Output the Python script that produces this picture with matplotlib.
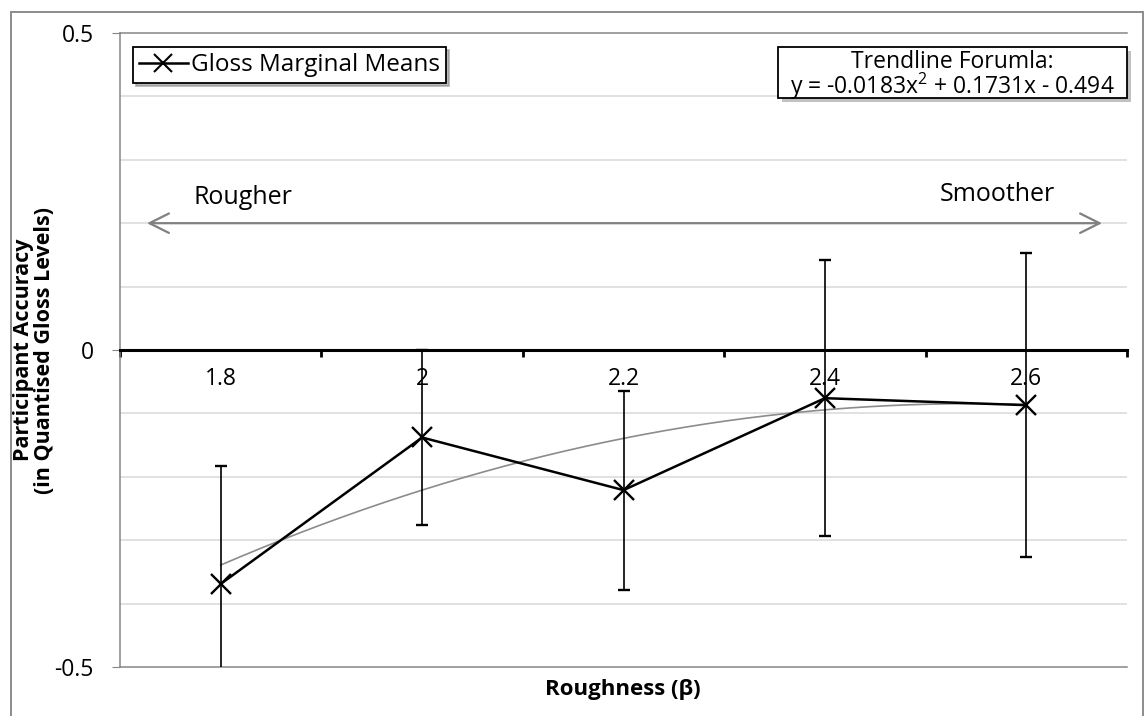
import matplotlib
matplotlib.use("Agg")
import matplotlib.pyplot as plt
from matplotlib.patches import Rectangle
from matplotlib.lines import Line2D
from matplotlib.ticker import MultipleLocator, FixedLocator
import numpy as np

plt.rcParams['font.family'] = ['Open Sans', 'DejaVu Sans']
plt.rcParams['axes.unicode_minus'] = False
plt.rcParams['mathtext.fontset'] = 'custom'
plt.rcParams['mathtext.rm'] = 'Open Sans'

# roughness levels and the marginal means of participant accuracy
roughness = ['1.8', '2', '2.2', '2.4', '2.6']
gloss_means = [-0.369, -0.138, -0.221, -0.076, -0.087]
gloss_err = [0.186, 0.138, 0.157, 0.218, 0.240]

# quadratic trendline coefficients (x = 1..5 over the categories)
trend_coef = [-0.0183, 0.1731, -0.494]

GRAY = '#868686'

fig = plt.figure(figsize=(11.45, 7.16), dpi=100)
ax = fig.add_axes([120 / 1145, 1 - 667 / 716, 1007 / 1145, 634 / 716])

x = np.arange(len(roughness))

# light minor grid every 0.1
ax.set_ylim(-0.5, 0.5)
ax.set_xlim(-0.5, len(roughness) - 0.5)
ax.yaxis.set_major_locator(FixedLocator([-0.5, 0, 0.5]))
ax.yaxis.set_minor_locator(MultipleLocator(0.1))
ax.set_yticklabels(['-0.5', '0', '0.5'])
ax.grid(axis='y', which='minor', color='#d9d9d9', lw=1.1, zorder=0)
ax.axhline(-0.5, color=GRAY, lw=1.1, zorder=1, clip_on=False)
ax.tick_params(axis='y', which='major', length=6, color=GRAY, labelsize=16.5, pad=13)
ax.tick_params(axis='y', which='minor', length=0)

ax.spines['right'].set_visible(False)
ax.spines['left'].set_color(GRAY)
ax.spines['left'].set_linewidth(1.1)
ax.spines['top'].set_color(GRAY)
ax.spines['top'].set_linewidth(1.1)

# x axis drawn through zero
ax.spines['bottom'].set_position(('data', 0))
ax.spines['bottom'].set_color('black')
ax.spines['bottom'].set_linewidth(2.2)
ax.spines['bottom'].set_zorder(3)
ax.set_xticks(x)
ax.set_xticklabels(roughness)
ax.set_xticks(np.arange(len(roughness) + 1) - 0.5, minor=True)
ax.tick_params(axis='x', which='major', length=0, labelsize=16.5, pad=12)
ax.tick_params(axis='x', which='minor', length=5, width=2, color='black', direction='out')

# trendline
tx = np.linspace(0, len(roughness) - 1, 200)
ty = np.polyval(trend_coef, tx + 1)
ax.plot(tx, ty, color='#8c8c8c', lw=1.2, zorder=4)

# means with error bars
ax.errorbar(x, gloss_means, yerr=gloss_err, color='black', lw=1.8,
            marker='x', markersize=15, markeredgewidth=1.7,
            ecolor='black', elinewidth=1.2, capsize=4.5, capthick=1.2,
            zorder=5, clip_on=True)

# rougher / smoother arrow
ax.annotate('', xy=(-0.366, 0.2), xytext=(4.376, 0.2),
            arrowprops=dict(arrowstyle='<->,head_length=1.0,head_width=0.5',
                            color='#808080', lw=1.6, mutation_scale=14,
                            shrinkA=0, shrinkB=0), zorder=4)
ax.text(0.111, 0.24, 'Rougher', fontsize=18, ha='center', va='center')
ax.text(3.855, 0.245, 'Smoother', fontsize=18, ha='center', va='center')

# legend
handle = Line2D([], [], color='black', lw=1.8, marker='x', markersize=13, markeredgewidth=1.5)
leg = ax.legend([handle], ['Gloss Marginal Means'], loc='upper left',
                bbox_to_anchor=(0.0129, 0.978), borderaxespad=0,
                fontsize=17.5, frameon=True, fancybox=False,
                shadow={'color': '0.55', 'alpha': 0.6},
                handlelength=2.0, handletextpad=0.15, borderpad=0.25)
leg.get_frame().set_edgecolor('black')
leg.get_frame().set_linewidth(1.3)

# trendline formula box
bx0, by0 = (778 - 120) / 1007, 1 - (98 - 33) / 634
bw, bh = 1 - bx0, (98 - 47) / 634
ax.add_patch(Rectangle((bx0 + 0.004, by0 - 0.007), bw, bh, transform=ax.transAxes,
                       facecolor='0.6', edgecolor='none', alpha=0.6, zorder=6, clip_on=False))
ax.add_patch(Rectangle((bx0, by0), bw, bh, transform=ax.transAxes,
                       facecolor='white', edgecolor='black', lw=1.3, zorder=7, clip_on=False))
ax.text(bx0 + bw / 2, by0 + bh * 0.44,
        'Trendline Forumla:\n' + r'y = -0.0183x$^2$ + 0.1731x - 0.494',
        transform=ax.transAxes, fontsize=16.5, ha='center', va='center',
        multialignment='center', linespacing=0.86, zorder=8)

# axis titles
fig.text(34 / 1145, 1 - 350 / 716, 'Participant Accuracy\n(in Quantised Gloss Levels)',
         rotation=90, ha='center', va='center', fontsize=15.5, fontweight='bold',
         multialignment='center', linespacing=1.0)
fig.text(623 / 1145, 1 - 690 / 716, 'Roughness (\u03b2)', ha='center', va='center',
         fontsize=16, fontweight='bold')

# chart border
fig.patches.append(Rectangle((11 / 1145, -0.05), 1132 / 1145, 1 - 12 / 716 + 0.05,
                             transform=fig.transFigure, fill=False, edgecolor='#8c8c8c',
                             lw=1.4, clip_on=False))

fig.savefig('out.png', dpi=100)
